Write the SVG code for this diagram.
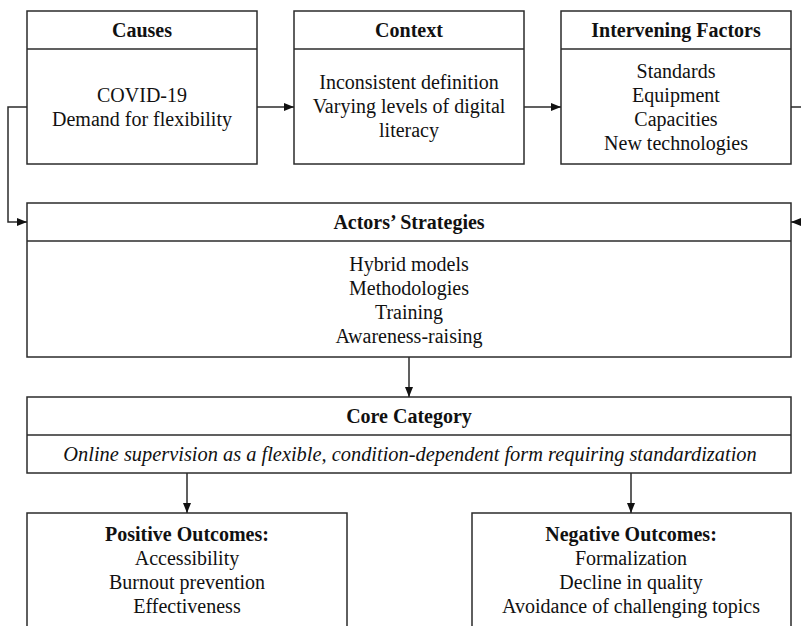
<svg xmlns="http://www.w3.org/2000/svg" width="801" height="626" viewBox="0 0 801 626">
  <style>
    .box { fill: #ffffff; stroke: #2b2b2b; stroke-width: 1.5; }
    .div { stroke: #2b2b2b; stroke-width: 1.5; }
    .edge { fill: none; stroke: #2b2b2b; stroke-width: 1.5; }
    text { font-family: "Liberation Serif", "Times New Roman", serif; font-size: 20px; fill: #111111; text-anchor: middle; }
    .title { font-weight: bold; }
    .ital { font-style: italic; font-size: 20.4px; }
  </style>
  <defs>
    <marker id="arrow" viewBox="0 0 10 8" refX="10" refY="4" markerWidth="10" markerHeight="8" markerUnits="userSpaceOnUse" orient="auto">
      <path d="M0,0 L10,4 L0,8 Z" fill="#111111"/>
    </marker>
  </defs>
  <rect width="801" height="626" fill="#ffffff"/>

  <g id="causes">
    <rect class="box" x="27" y="11" width="230" height="153"/>
    <line class="div" x1="27" y1="49" x2="257" y2="49"/>
    <text class="title" x="142" y="37">Causes</text>
    <text x="142" y="102">COVID-19</text>
    <text x="142" y="126">Demand for flexibility</text>
  </g>

  <g id="context">
    <rect class="box" x="294" y="11" width="230" height="153"/>
    <line class="div" x1="294" y1="49" x2="524" y2="49"/>
    <text class="title" x="409" y="37">Context</text>
    <text x="409" y="89">Inconsistent definition</text>
    <text x="409" y="113">Varying levels of digital</text>
    <text x="409" y="137">literacy</text>
  </g>

  <g id="intervening">
    <rect class="box" x="561" y="11" width="230" height="153"/>
    <line class="div" x1="561" y1="49" x2="791" y2="49"/>
    <text class="title" x="676" y="37">Intervening Factors</text>
    <text x="676" y="78">Standards</text>
    <text x="676" y="102">Equipment</text>
    <text x="676" y="126">Capacities</text>
    <text x="676" y="150">New technologies</text>
  </g>

  <g id="strategies">
    <rect class="box" x="27" y="203" width="764" height="154"/>
    <line class="div" x1="27" y1="241" x2="791" y2="241"/>
    <text class="title" x="409" y="229">Actors’ Strategies</text>
    <text x="409" y="271">Hybrid models</text>
    <text x="409" y="295">Methodologies</text>
    <text x="409" y="319">Training</text>
    <text x="409" y="343">Awareness-raising</text>
  </g>

  <g id="core">
    <rect class="box" x="27" y="397" width="764" height="76"/>
    <line class="div" x1="27" y1="435" x2="791" y2="435"/>
    <text class="title" x="409" y="423">Core Category</text>
    <text class="ital" x="410" y="461">Online supervision as a flexible, condition-dependent form requiring standardization</text>
  </g>

  <g id="positive">
    <rect class="box" x="27" y="513" width="320" height="130"/>
    <text class="title" x="187" y="541">Positive Outcomes:</text>
    <text x="187" y="565">Accessibility</text>
    <text x="187" y="589">Burnout prevention</text>
    <text x="187" y="613">Effectiveness</text>
  </g>

  <g id="negative">
    <rect class="box" x="472" y="513" width="319" height="130"/>
    <text class="title" x="631" y="541">Negative Outcomes:</text>
    <text x="631" y="565">Formalization</text>
    <text x="631" y="589">Decline in quality</text>
    <text x="631" y="613">Avoidance of challenging topics</text>
  </g>

  <g id="connectors">
    <path class="edge" d="M257,107 H294" marker-end="url(#arrow)"/>
    <path class="edge" d="M524,107 H561" marker-end="url(#arrow)"/>
    <path class="edge" d="M27,107 H8 V222 H27" marker-end="url(#arrow)"/>
    <path class="edge" d="M791,107 H808 V222 H791" marker-end="url(#arrow)"/>
    <path class="edge" d="M409,357 V397" marker-end="url(#arrow)"/>
    <path class="edge" d="M187,473 V513" marker-end="url(#arrow)"/>
    <path class="edge" d="M631,473 V513" marker-end="url(#arrow)"/>
  </g>
</svg>
